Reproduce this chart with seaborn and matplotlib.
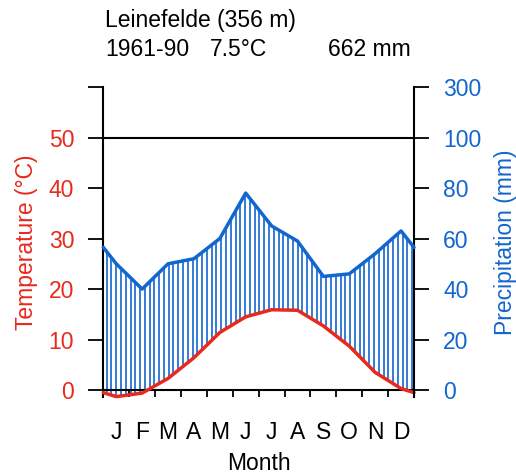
import numpy as np
import pandas as pd
import matplotlib
matplotlib.use("Agg")
import matplotlib.pyplot as plt
import seaborn as sns

# ---- data ----
months = ["J", "F", "M", "A", "M", "J", "J", "A", "S", "O", "N", "D"]
temperature = [-1.3, -0.6, 2.3, 6.4, 11.4, 14.5, 15.9, 15.8, 12.7, 8.7, 3.5, 0.3]
precipitation = [50, 40, 50, 52, 60, 78, 65, 59, 45, 46, 54, 63]
station = "Leinefelde (356 m)"
period = "1961-90"
mean_temp_label = "7.5°C"
total_precip_label = "662 mm"
temp_ticks = [0, 10, 20, 30, 40, 50, 60]
temp_tick_labels = ["0", "10", "20", "30", "40", "50", ""]
precip_ticks = [0, 20, 40, 60, 80, 100, 120]
precip_tick_labels = ["0", "20", "40", "60", "80", "100", "300"]

sns.set_theme(style="white")
plt.rcParams['font.family'] = ['Liberation Sans', 'DejaVu Sans']
plt.rcParams['text.color'] = 'black'

RED = "#e8291c"
BLUE = "#1266cf"
FS = 16.5

x = np.arange(1, 13)
t_edge = (temperature[0] + temperature[-1]) / 2
p_edge = (precipitation[0] + precipitation[-1]) / 2
x_ext = np.concatenate([[0.5], x, [12.5]])
t_ext = np.concatenate([[t_edge], temperature, [t_edge]])
p_ext = np.concatenate([[p_edge], precipitation, [p_edge]])
df = pd.DataFrame({"month": x_ext, "temp": t_ext, "prec": p_ext})

fig = plt.figure(figsize=(5.16, 4.75), dpi=100)
ax = fig.add_axes([0.2002, 0.1650, 0.6021, 0.6518])
ax2 = ax.twinx()

ax.set_xlim(0.5, 12.5)
ax.set_ylim(-1.3, 60)
ax2.set_ylim(-2.6, 120)

# hatching (humid period)
xs = np.linspace(0.63, 12.43, 65)
lo = np.interp(xs, x_ext, t_ext)
hi = np.interp(xs, x_ext, p_ext) / 2
m = hi > lo
ax.vlines(xs[m], lo[m], hi[m], color=BLUE, lw=1.2, zorder=2, clip_on=False)

ax.axhline(50, color="black", lw=1.5, zorder=3)

sns.lineplot(data=df, x="month", y="temp", ax=ax, color=RED, lw=2.5,
             clip_on=False, zorder=5)
sns.lineplot(data=df, x="month", y="prec", ax=ax2, color=BLUE, lw=2.5,
             clip_on=False, zorder=5)

# spines
for s in ["top", "right"]:
    ax.spines[s].set_visible(False)
for s in ["top", "left", "bottom"]:
    ax2.spines[s].set_visible(False)
ax.spines["bottom"].set_position(("data", 0))
for sp in [ax.spines["left"], ax.spines["bottom"], ax2.spines["right"]]:
    sp.set_color("black")
    sp.set_linewidth(1.5)

# x ticks
ax.set_xticks(np.arange(0.5, 13, 1))
ax.set_xticklabels([])
ax.set_xticks(x, minor=True)
ax.set_xticklabels(months, minor=True)
ax.tick_params(axis="x", which="major", direction="out", length=5, width=1.3,
               color="black", bottom=True)
ax.tick_params(axis="x", which="minor", length=0, pad=22, labelsize=FS,
               labelcolor="black", bottom=True)

# y ticks
ax.set_yticks(temp_ticks)
ax.set_yticklabels(temp_tick_labels)
ax.tick_params(axis="y", direction="out", length=11, width=1.3, color="black",
               pad=10, labelsize=FS, labelcolor=RED, left=True)
ax2.set_yticks(precip_ticks)
ax2.set_yticklabels(precip_tick_labels)
ax2.tick_params(axis="y", direction="out", length=11, width=1.3, color="black",
                pad=10, labelsize=FS, labelcolor=BLUE, right=True)

ax.set_xlabel("Month", fontsize=FS, color="black", labelpad=6)
ax.set_ylabel("Temperature (°C)", fontsize=FS, color=RED, labelpad=8)
ax2.set_ylabel("Precipitation (mm)", fontsize=FS, color=BLUE, labelpad=9)

fig.text(105 / 516, 1 - 20 / 475, station, fontsize=FS, va="center", ha="left")
fig.text(105 / 516, 1 - 50 / 475, period, fontsize=FS, va="center", ha="left")
fig.text(210 / 516, 1 - 50 / 475, mean_temp_label, fontsize=FS, va="center", ha="left")
fig.text(328 / 516, 1 - 50 / 475, total_precip_label, fontsize=FS, va="center", ha="left")

fig.savefig("out.png", dpi=100)
